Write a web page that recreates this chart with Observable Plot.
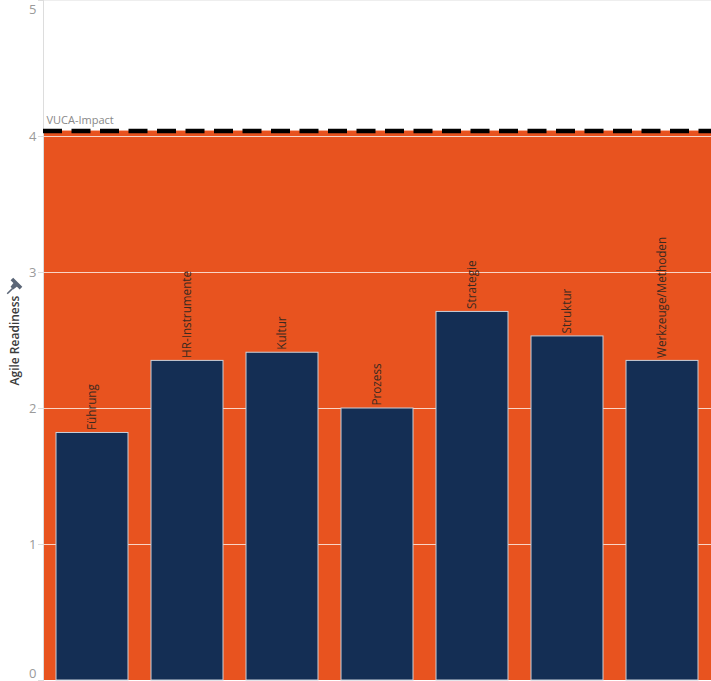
<!DOCTYPE html>
<html>
<head>
<meta charset="utf-8">
<script src="https://cdn.jsdelivr.net/npm/d3@7"></script>
<script src="https://cdn.jsdelivr.net/npm/@observablehq/plot@0.6"></script>
<style>
  html, body { margin: 0; padding: 0; background: #fff; }
  #chart { width: 711px; height: 681px; }
</style>
</head>
<body>
<div id="chart"></div>
<script>
const categories = ["Führung", "HR-Instrumente", "Kultur", "Prozess", "Strategie", "Struktur", "Werkzeuge/Methoden"];
const readiness = [1.82, 2.35, 2.41, 2.0, 2.71, 2.53, 2.35];
const vucaImpact = 4.04;
const vucaLabel = "VUCA-Impact";
const yTicks = [0, 1, 2, 3, 4, 5];
const yTicksMid = [1, 2, 3, 4];
const gridTicks = [1, 2, 3, 4];
const yLabel = "Agile Readiness";

const data = categories.map((c, i) => ({cat: c, value: readiness[i]}));

const pinSymbol = {
  draw(context, size) {
    const k = 1.3;
    const poly = pts => {
      context.moveTo(pts[0][0] * k, pts[0][1] * k);
      for (let i = 1; i < pts.length; ++i) context.lineTo(pts[i][0] * k, pts[i][1] * k);
      context.closePath();
    };
    poly([[-1, -6], [6, 1], [4, 3], [-3, -4]]);
    poly([[0, -3], [3, 0], [-1, 3], [-3, 1]]);
    poly([[-2, 2], [-6, 6], [-5.2, 6.8], [-1.2, 2.8]]);
  }
};

const tickText = {frameAnchor: "left", textAnchor: "end", dx: -7, fill: "#9a9a9a", fontSize: 13};

const chart = Plot.plot({
  width: 711,
  height: 681,
  marginLeft: 43,
  marginRight: 0,
  marginTop: 0,
  marginBottom: 1,
  style: {fontFamily: "'Open Sans', 'Noto Sans', sans-serif", background: "#fff"},
  x: {domain: categories, paddingInner: 0.245, paddingOuter: 0.1225, axis: null},
  y: {domain: [0, 5], axis: null},
  marks: [
    Plot.rect([vucaImpact], {y1: 0, y2: d => d, fill: "#E8531F"}),
    Plot.ruleY(gridTicks, {stroke: "#ffffff", strokeOpacity: 0.75, strokeWidth: 1}),
    Plot.ruleY([5], {stroke: "#eeeeee"}),
    Plot.frame({anchor: "left", stroke: "#dddddd"}),
    Plot.barY(data, {x: "cat", y: "value", fill: "#142E54", stroke: "#c9d0da", strokeWidth: 1}),
    Plot.text(data, {x: "cat", y: "value", text: "cat", rotate: -90, textAnchor: "start", dy: -3, fill: "#3a2a20", fontSize: 11.7}),
    Plot.ruleY([vucaImpact], {stroke: "#000000", strokeWidth: 4.5, strokeDasharray: "19,9.5"}),
    Plot.text([vucaImpact], {y: d => d, frameAnchor: "left", text: () => vucaLabel, textAnchor: "start", dx: 3, dy: -11, fill: "#888888", fontSize: 11}),
    Plot.axisY(yTicks, {text: null, tickSize: 5, stroke: "#dddddd", label: null}),
    Plot.text(yTicksMid, {...tickText, y: d => d, text: d => String(d)}),
    Plot.text([0], {...tickText, y: d => d, text: d => String(d), dy: -7}),
    Plot.text([5], {...tickText, y: d => d, text: d => String(d), dy: 9}),
    Plot.text([yLabel], {frameAnchor: "left", textAnchor: "middle", dx: -28, rotate: -90, fill: "#3b3b3b", fontSize: 12, fontWeight: 600}),
    Plot.dot([0], {frameAnchor: "left", dx: -29, dy: -55, symbol: pinSymbol, fill: "#5b6677", stroke: "none", r: 4})
  ]
});
document.getElementById("chart").appendChild(chart);
</script>
</body>
</html>
